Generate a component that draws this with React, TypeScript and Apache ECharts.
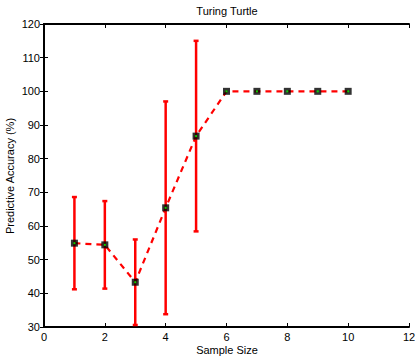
import React, { useEffect, useRef } from "react";
import * as echarts from "echarts";

// Sample sizes and mean predictive accuracy (%)
const sampleSizes = [1, 2, 3, 4, 5, 6, 7, 8, 9, 10];
const accuracy = [54.9, 54.4, 43.3, 65.4, 86.7, 100, 100, 100, 100, 100];
// Half-width of each error bar (%)
const errorHalf = [13.7, 13.0, 12.7, 31.6, 28.3, 0, 0, 0, 0, 0];

const FONT = "Liberation Sans, Arial, Helvetica, sans-serif";

export default function App() {
  const ref = useRef<HTMLDivElement>(null);

  useEffect(() => {
    if (!ref.current) return;
    const chart = echarts.init(ref.current, undefined, { renderer: "svg" });

    const points = sampleSizes.map((x, i) => [x, accuracy[i]]);
    const bars = sampleSizes
      .map((x, i) => [x, accuracy[i] - errorHalf[i], accuracy[i] + errorHalf[i]])
      .filter((_, i) => errorHalf[i] > 0);

    const tickCommon = {
      show: true,
      inside: true,
      length: 4,
      lineStyle: { color: "#000", width: 1 },
    };
    const lineCommon = { show: true, lineStyle: { color: "#000", width: 2 } };
    const labelCommon = { color: "#000", fontSize: 11, fontFamily: FONT };
    const textStyle = { fill: "#000", fontSize: 11, fontFamily: FONT, align: "center", verticalAlign: "middle" };

    chart.setOption({
      animation: false,
      backgroundColor: "#fff",
      graphic: [
        { type: "text", x: 227, y: 11, style: { ...textStyle, text: "Turing Turtle" } },
        { type: "text", x: 227, y: 350, style: { ...textStyle, text: "Sample Size" } },
        {
          type: "text",
          x: 10,
          y: 176,
          rotation: Math.PI / 2,
          style: { ...textStyle, text: "Predictive Accuracy (%)" },
        },
      ],
      grid: { left: 44, right: 6, top: 24, bottom: 35, containLabel: false, outerBoundsMode: "none" },
      xAxis: [
        {
          type: "value",
          min: 0,
          max: 12,
          interval: 2,
          axisLine: lineCommon,
          axisTick: tickCommon,
          axisLabel: { ...labelCommon, margin: 4 },
          splitLine: { show: false },
        },
        {
          type: "value",
          position: "top",
          min: 0,
          max: 12,
          interval: 2,
          axisLine: lineCommon,
          axisTick: tickCommon,
          axisLabel: { show: false },
          splitLine: { show: false },
        },
      ],
      yAxis: [
        {
          type: "value",
          min: 30,
          max: 120,
          interval: 10,
          axisLine: lineCommon,
          axisTick: tickCommon,
          axisLabel: { ...labelCommon, margin: 4 },
          splitLine: { show: false },
        },
        {
          type: "value",
          position: "right",
          min: 30,
          max: 120,
          interval: 10,
          axisLine: lineCommon,
          axisTick: tickCommon,
          axisLabel: { show: false },
          splitLine: { show: false },
        },
      ],
      series: [
        {
          type: "custom",
          data: bars,
          clip: true,
          z: 2,
          renderItem: (params: any, api: any) => {
            const x = api.value(0);
            const lo = api.coord([x, api.value(1)]);
            const hi = api.coord([x, api.value(2)]);
            const cap = 2.5;
            const style = { stroke: "#ff0000", lineWidth: 2.5 };
            return {
              type: "group",
              children: [
                { type: "line", shape: { x1: lo[0], y1: lo[1], x2: hi[0], y2: hi[1] }, style },
                { type: "line", shape: { x1: lo[0] - cap, y1: lo[1], x2: lo[0] + cap, y2: lo[1] }, style },
                { type: "line", shape: { x1: hi[0] - cap, y1: hi[1], x2: hi[0] + cap, y2: hi[1] }, style },
              ],
            };
          },
        },
        {
          type: "line",
          data: points,
          showSymbol: false,
          symbol: "none",
          z: 3,
          lineStyle: { color: "#ff0000", width: 2.2, type: [6, 5] },
        },
        {
          type: "scatter",
          data: points,
          symbol: "rect",
          symbolSize: 7,
          z: 4,
          itemStyle: { color: "#000" },
        },
        {
          type: "scatter",
          data: points,
          symbol: "rect",
          symbolSize: 2,
          z: 5,
          itemStyle: { color: "#00ff00" },
        },
      ],
    });

    return () => chart.dispose();
  }, []);

  return <div ref={ref} style={{ width: 415, height: 362, position: "absolute", left: 0, top: 0 }} />;
}
